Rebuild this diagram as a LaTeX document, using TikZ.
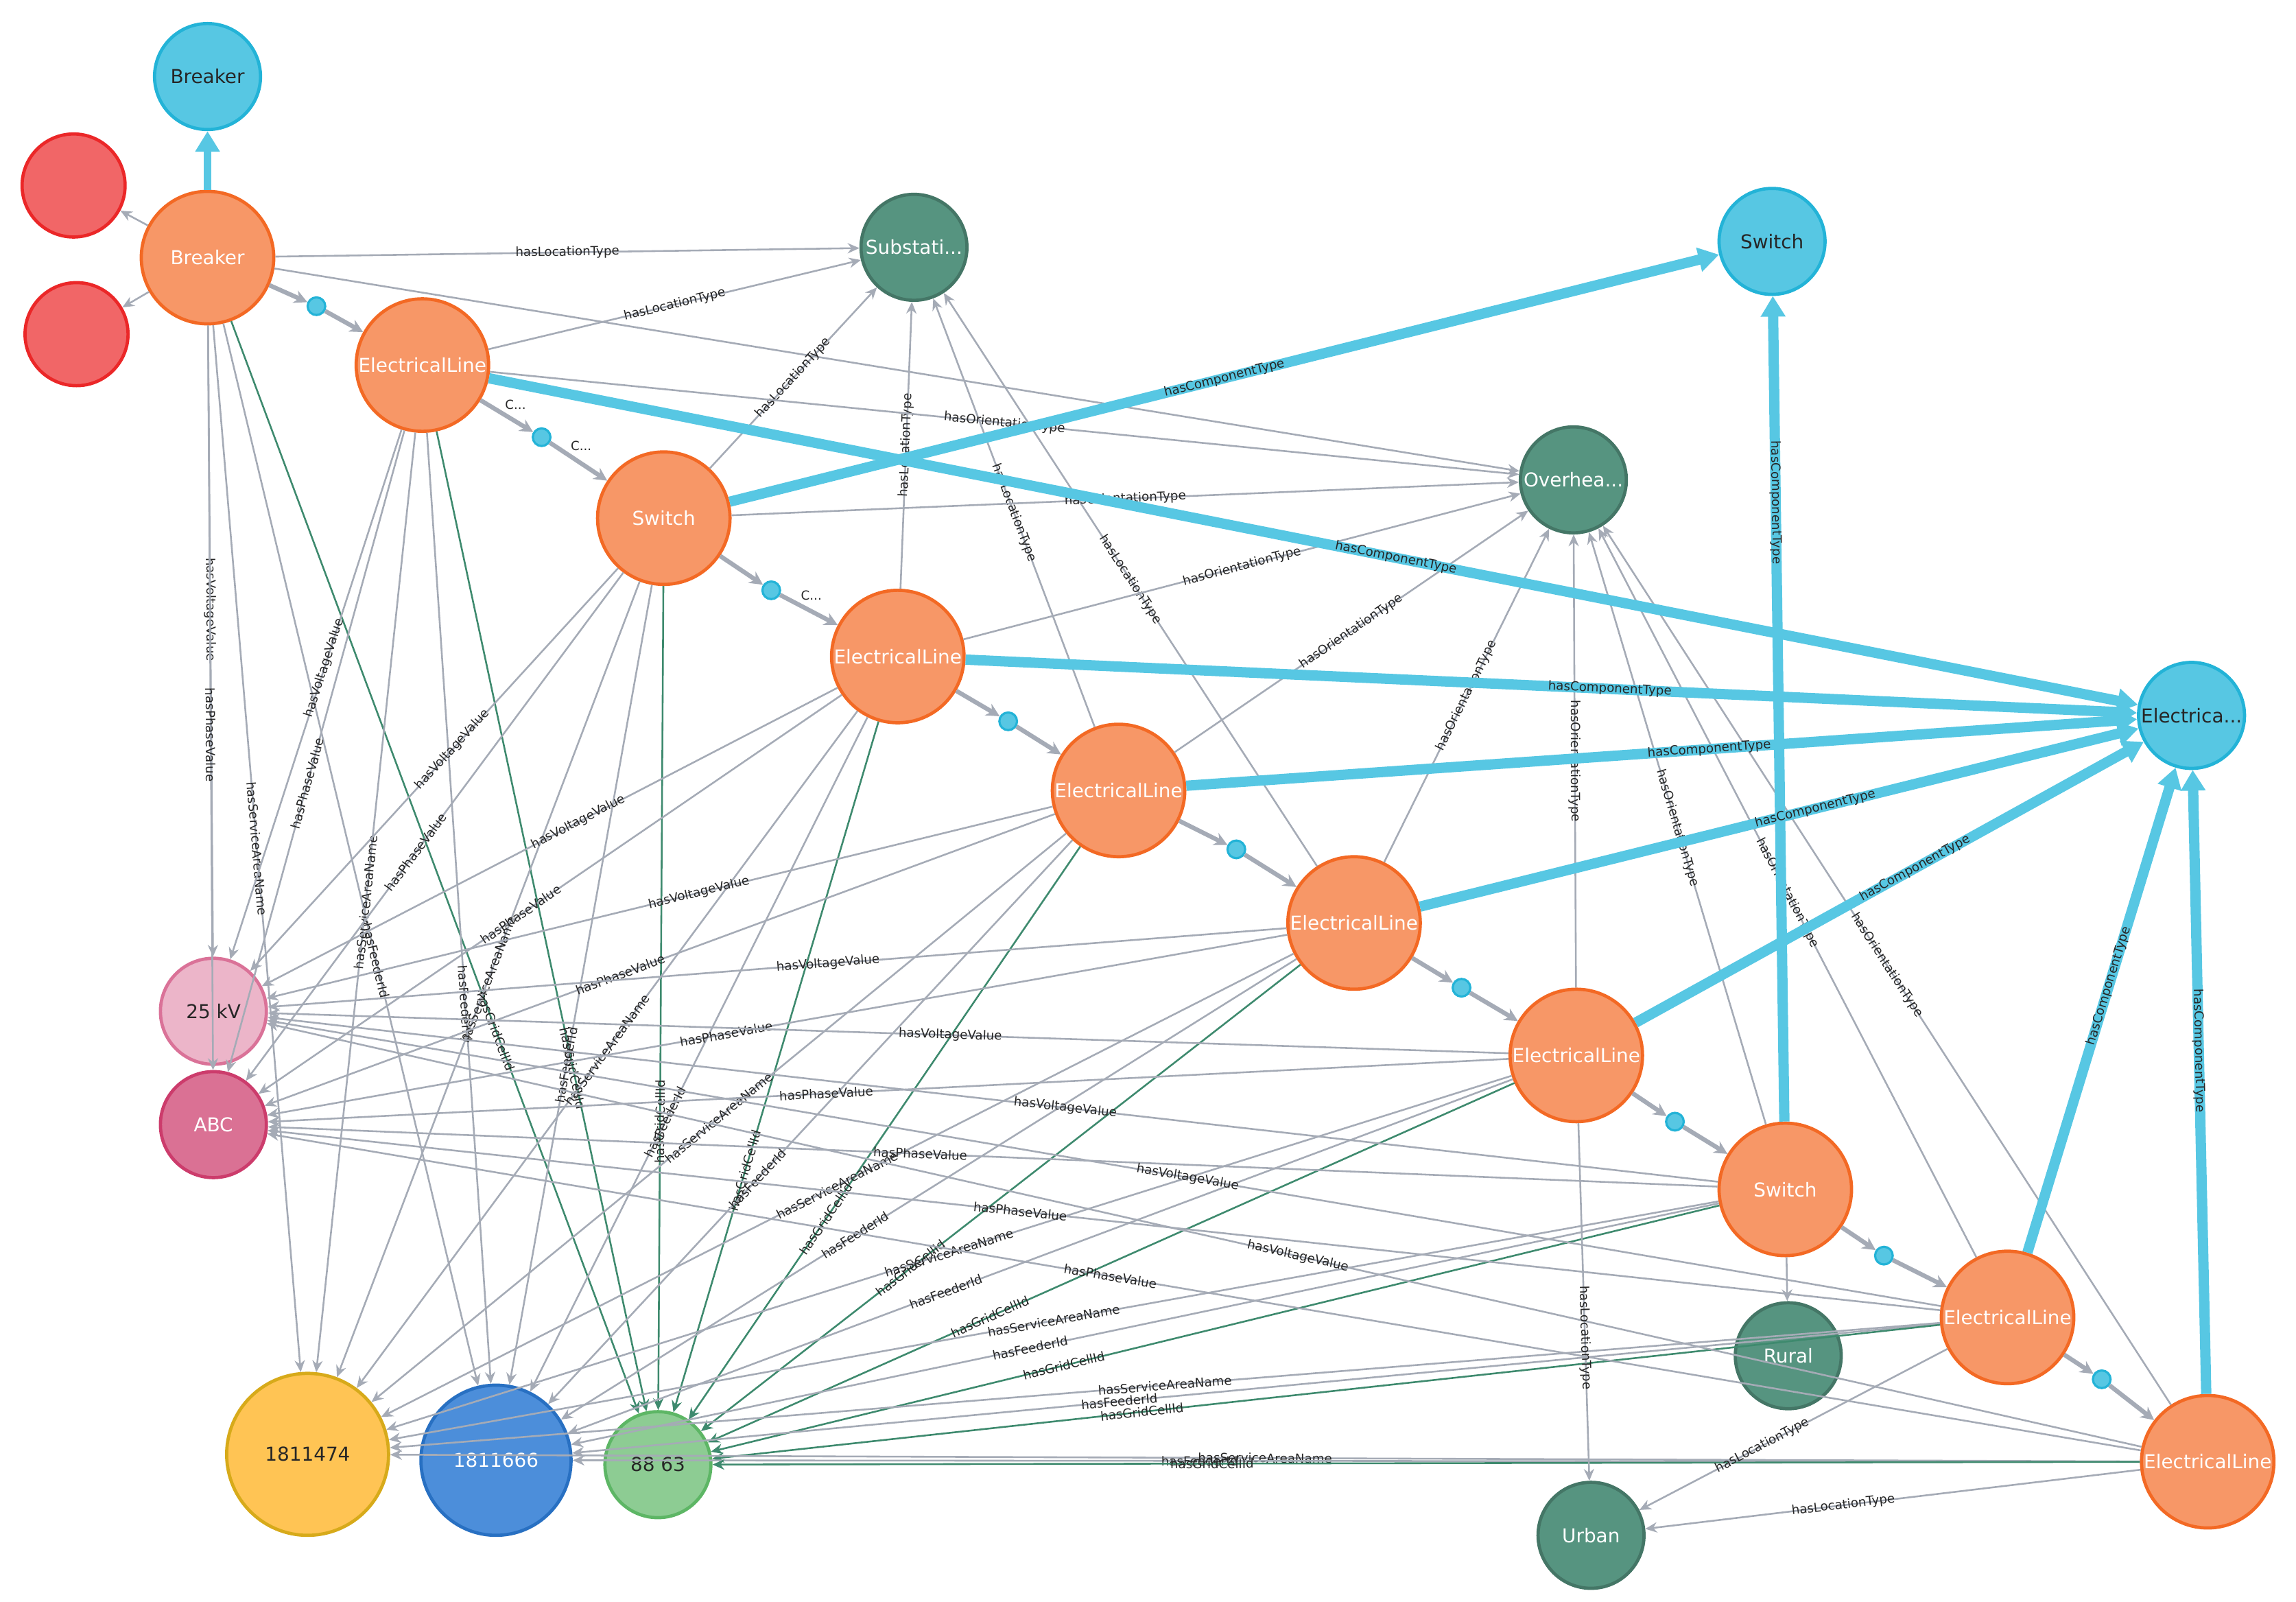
\documentclass[tikz,border=0pt]{standalone}
\usepackage{fontspec}
\setmainfont{DejaVu Sans}
\usetikzlibrary{arrows.meta}
\definecolor{og}{HTML}{F79767}\definecolor{ogs}{HTML}{F36924}
\definecolor{bl}{HTML}{57C7E3}\definecolor{bls}{HTML}{23B3D7}
\definecolor{dg}{HTML}{569480}\definecolor{dgs}{HTML}{447666}
\definecolor{rd}{HTML}{F16667}\definecolor{rds}{HTML}{EB2728}
\definecolor{pk}{HTML}{ECB5C9}\definecolor{pks}{HTML}{DA7298}
\definecolor{mg}{HTML}{DA7194}\definecolor{mgs}{HTML}{CC3C6C}
\definecolor{ye}{HTML}{FFC454}\definecolor{yes}{HTML}{D7AA1A}
\definecolor{db}{HTML}{4C8EDA}\definecolor{dbs}{HTML}{2870C2}
\definecolor{lg}{HTML}{8DCC93}\definecolor{lgs}{HTML}{5DB665}
\definecolor{eg}{HTML}{A5ABB6}\definecolor{gr}{HTML}{3E8A6E}
\begin{document}
\begin{tikzpicture}[x=1pt,y=-1pt,
 n/.style={circle,draw,line width=2.2,minimum size=#1,inner sep=0pt,font=\fontsize{13}{14}\selectfont},
 o/.style={n=90,fill=og,draw=ogs,text=white},
 b/.style={n=72,fill=bl,draw=bls,text=black!85},
 d/.style={n=72,fill=dg,draw=dgs,text=white},
 dot/.style={circle,fill=bl,draw=bls,line width=1.5,minimum size=12,inner sep=0pt},
 e/.style={draw=eg,line width=1.2,-{Stealth[length=8,width=7]}},
 ge/.style={draw=gr,line width=1.2,-{Stealth[length=8,width=7]}},
 ce/.style={draw=bl,line width=7,-{Triangle[length=14,width=16]}},
 ch/.style={draw=eg,line width=3,-{Stealth[length=9,width=9]}},
 lab/.style={font=\fontsize{8.5}{9}\selectfont,sloped,inner sep=1pt,text=black!85}]
\useasboundingbox (0,0) rectangle (1560,1088);
\node[b] (bb) at (141,52) {Breaker};
\node[n=70,fill=rd,draw=rds] (r1) at (50,126) {};
\node[n=70,fill=rd,draw=rds] (r2) at (52,227) {};
\node[o] (br) at (141,175) {Breaker};
\node[d] (sub) at (621,168) {Substati...};
\node[b] (swb) at (1204,164) {Switch};
\node[o] (el1) at (287,248) {ElectricalLine};
\node[d] (ov) at (1069,326) {Overhea...};
\node[o] (sw) at (451,352) {Switch};
\node[o] (el2) at (610,446) {ElectricalLine};
\node[b] (elb) at (1489,486) {Electrica...};
\node[o] (el3) at (760,537) {ElectricalLine};
\node[o] (el4) at (920,627) {ElectricalLine};
\node[o] (el5) at (1071,717) {ElectricalLine};
\node[o] (sw2) at (1213,808) {Switch};
\node[o] (el6) at (1364,895) {ElectricalLine};
\node[o] (el7) at (1500,993) {ElectricalLine};
\node[d] (rur) at (1215,921) {Rural};
\node[d] (urb) at (1081,1043) {Urban};
\node[n=72,fill=pk,draw=pks,text=black!85] (kv) at (145,687) {25 kV};
\node[n=72,fill=mg,draw=mgs,text=white] (abc) at (145,764) {ABC};
\node[n=110,fill=ye,draw=yes,text=black!85] (s1) at (209,988) {1811474};
\node[n=102,fill=db,draw=dbs,text=white] (s2) at (337,992) {1811666};
\node[n=72,fill=lg,draw=lgs,text=black!85] (g) at (447,995) {88 63};
\foreach \i/\x/\y in {1/215/208,2/368/297,3/524/401,4/685/490,5/840/577,6/993/671,7/1138/762,8/1280/853,9/1428/937}
  \node[dot] (d\i) at (\x,\y) {};
\draw[ce,line width=5] (br) -- (bb);
\draw[e] (br) -- (r1); \draw[e] (br) -- (r2);
\draw[e] (br) -- node[lab]{hasLocationType} (sub);
\draw[e] (br) -- (ov);
\foreach \s in {br,el1,sw,el2,el3,el4,el5,sw2,el6,el7}{
 \draw[e] (\s) -- node[lab,pos=0.45]{hasVoltageValue} (kv);
 \draw[e] (\s) -- node[lab,pos=0.55]{hasPhaseValue} (abc);
 \draw[e] (\s) -- node[lab,pos=0.5]{hasServiceAreaName} (s1);
 \draw[e] (\s) -- node[lab,pos=0.6]{hasFeederId} (s2);
 \draw[ge] (\s) -- node[lab,pos=0.65]{hasGridCellId} (g);
}
\foreach \s in {el1,sw,el2,el3,el4}{\draw[e] (\s) -- node[lab]{hasLocationType} (sub);}
\foreach \s in {el5,el6,el7}{\draw[e] (\s) -- node[lab,pos=0.6]{hasLocationType} (urb);}
\draw[e] (sw2) -- (rur);
\foreach \s in {el1,sw,el2,el3,el4,el5,sw2,el6,el7}{\draw[e] (\s) -- node[lab]{hasOrientationType} (ov);}
\draw[ch] (br) -- (d1); \draw[ch] (d1) -- (el1);
\draw[ch] (el1) -- node[lab,pos=0.4,sloped=false,above right]{C...} (d2); \draw[ch] (d2) -- node[lab,sloped=false,above right,pos=0.3]{C...} (sw);
\draw[ch] (sw) -- (d3); \draw[ch] (d3) -- node[lab,sloped=false,above right,pos=0.3]{C...} (el2);
\draw[ch] (el2) -- (d4); \draw[ch] (d4) -- (el3);
\draw[ch] (el3) -- (d5); \draw[ch] (d5) -- (el4);
\draw[ch] (el4) -- (d6); \draw[ch] (d6) -- (el5);
\draw[ch] (el5) -- (d7); \draw[ch] (d7) -- (sw2);
\draw[ch] (sw2) -- (d8); \draw[ch] (d8) -- (el6);
\draw[ch] (el6) -- (d9); \draw[ch] (d9) -- (el7);
\draw[ce] (sw) -- node[lab,pos=0.5]{hasComponentType} (swb);
\draw[ce] (sw2) -- node[lab,pos=0.75]{hasComponentType} (swb);
\foreach \s in {el1,el2,el3,el4,el5,el6,el7}{\draw[ce] (\s) -- node[lab,pos=0.55]{hasComponentType} (elb);}
\end{tikzpicture}
\end{document}
